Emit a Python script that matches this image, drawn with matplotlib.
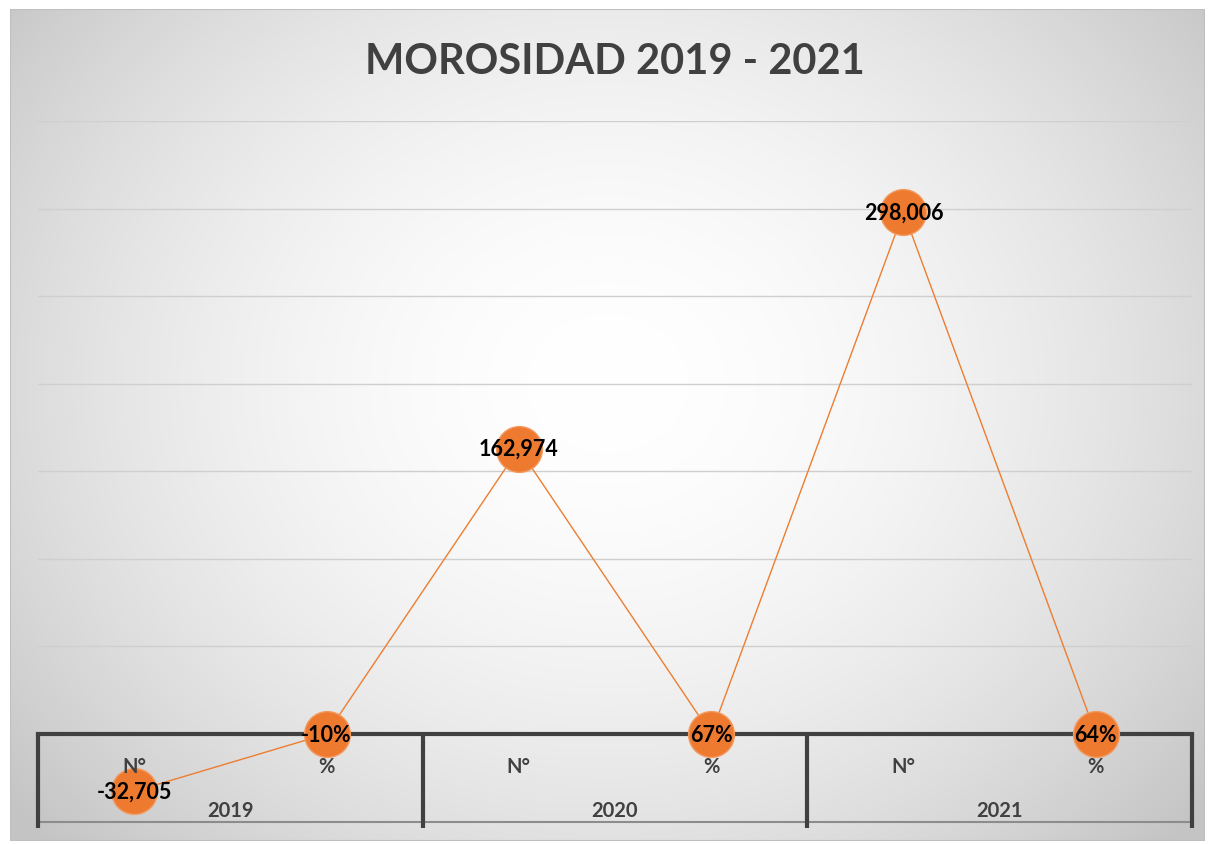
import numpy as np
import matplotlib.pyplot as plt
from matplotlib.patches import Rectangle

# datos
years = ["2019", "2020", "2021"]
sub_labels = ["N°", "%", "N°", "%", "N°", "%"]
values = [-32705, -0.10, 162974, 0.67, 298006, 0.64]
title = "MOROSIDAD 2019 - 2021"

plt.rcParams['font.family'] = ['Lato', 'DejaVu Sans']

W, H = 1210, 845
fig = plt.figure(figsize=(W / 100, H / 100), dpi=100)
fig.patch.set_facecolor('white')

# fondo con degradado radial
bg = fig.add_axes([10 / W, 1 - 842 / H, 1195 / W, 832 / H])
yy, xx = np.mgrid[0:1:300j, 0:1:400j]
r = np.sqrt(((xx - 0.5) / 0.65) ** 2 + ((yy - 0.55) / 0.8) ** 2)
r = np.clip(r, 0, 1)
shade = 1.0 - 0.23 * r ** 1.8
bg.imshow(np.dstack([shade] * 3), extent=[0, 1, 0, 1], aspect='auto', origin='lower')
bg.add_patch(Rectangle((0, 0), 1, 1, transform=bg.transAxes, fill=False,
                       edgecolor='#bfbfbf', linewidth=1.5))
bg.set_axis_off()

# área de trazado
x0, x1, ytop, ybot = 38, 1192, 122, 822.6
ax = fig.add_axes([x0 / W, 1 - ybot / H, (x1 - x0) / W, (ybot - ytop) / H])
ax.patch.set_alpha(0)
ax.set_xlim(-0.5, len(values) - 0.5)
ax.set_ylim(-50000, 350000)
for s in ax.spines.values():
    s.set_visible(False)
ax.set_xticks([])
ax.set_yticks([])
for g in range(50000, 350001, 50000):
    ax.axhline(g, color='#cfcfcf', linewidth=1, zorder=1)

xs = np.arange(len(values))
ax.plot(xs, values, color='#ED7D31', linewidth=1, zorder=2)
ax.plot(xs, values, linestyle='none', marker='o', markersize=33,
        markerfacecolor='#EE7A30', markeredgecolor='#F39A5F',
        markeredgewidth=1, zorder=3)

# eje de categorías
ax.axhline(0, color='#404040', linewidth=3, zorder=2.5, clip_on=False)
ax.plot([-0.5, 5.5], [-50000, -50000], color='#8c8c8c', linewidth=1.5, clip_on=False, zorder=2)
for b in [-0.5, 1.5, 3.5, 5.5]:
    ax.plot([b, b], [0, -53500], color='#404040', linewidth=3, clip_on=False,
            solid_capstyle='butt', zorder=2.5)
for i, lab in enumerate(sub_labels):
    ax.text(i, -18500, lab, ha='center', va='center', fontsize=14.5,
            fontweight='bold', color='#404040', zorder=3.5)
for j, yr in enumerate(years):
    ax.text(2 * j + 0.5, -43500, yr, ha='center', va='center', fontsize=14.5,
            fontweight='bold', color='#404040', zorder=2)

# etiquetas de datos
for i, v in enumerate(values):
    txt = f"{v:,.0f}" if sub_labels[i] == "N°" else f"{v:.0%}"
    ax.text(i, v, txt, ha='center', va='center', fontsize=15.5,
            fontweight='bold', color='black', zorder=4)

fig.text(615 / W, 1 - 62 / H, title, ha='center', va='center', fontsize=30,
         fontweight='bold', color='#404040')

fig.savefig('out.png', dpi=100)
